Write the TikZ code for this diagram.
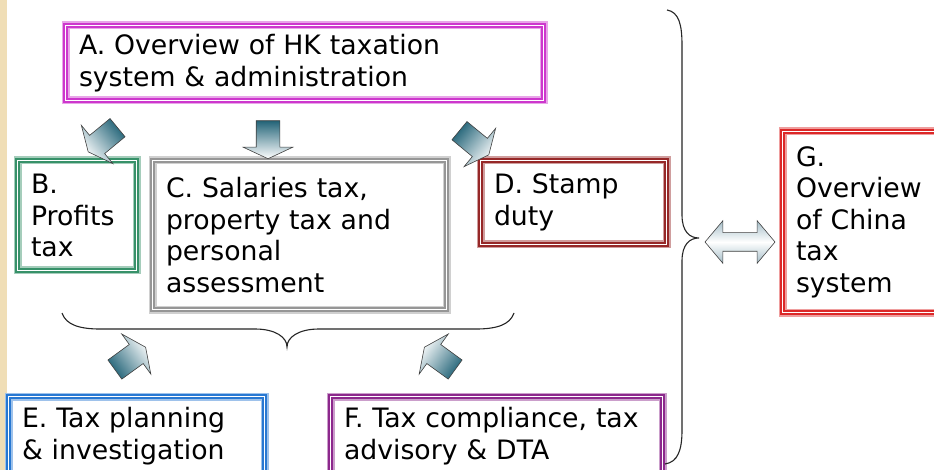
\documentclass[tikz,border=0pt]{standalone}
\usepackage{fontspec}
\setmainfont{DejaVu Sans}
\usepackage{xcolor}
\usepackage{tikz}
\usetikzlibrary{shapes.arrows, positioning}

\definecolor{boxA}{RGB}{205,55,205}
\definecolor{boxB}{RGB}{55,145,105}
\definecolor{boxC}{RGB}{150,150,150}
\definecolor{boxD}{RGB}{150,40,40}
\definecolor{boxE}{RGB}{40,120,210}
\definecolor{boxF}{RGB}{140,40,140}
\definecolor{boxG}{RGB}{220,40,40}
\definecolor{arrowteal}{RGB}{35,100,120}
\definecolor{linkblue}{RGB}{165,190,200}
\definecolor{slidetan}{RGB}{240,222,182}

\begin{document}
\begin{tikzpicture}[x=1pt, y=-1pt, font=\fontsize{26.7}{31.5}\selectfont,
    topic/.style={rectangle, draw=#1, preaction={draw=#1!45, line width=8pt}, line width=1.8pt, double=white, double distance=1.8pt, inner sep=0pt, align=left},
    flow/.style 2 args={single arrow, draw=black!75, line width=0.6pt, inner xsep=0pt, inner ysep=11.5pt, minimum height=38pt, single arrow head extend=13pt, single arrow tip angle=130, top color=arrowteal, bottom color=white, shading angle=#2, rotate=#1},
    brace/.style={draw=black!85, line width=1.1pt}]
    \useasboundingbox (0,0) rectangle (934,470);
    \clip (0,0) rectangle (934,470);
    \fill[white] (0,0) rectangle (934,470);
    \fill[slidetan] (0,0) rectangle (7,470);

    % topic boxes
    \node[topic=boxA, minimum width=478pt, minimum height=75pt, text width=451pt] (overview) at (304.5,63) {A. Overview of HK taxation\\system \& administration};
    \node[topic=boxB, minimum width=119pt, minimum height=110pt, text width=92pt] (profits) at (77,215.5) {B.\\Profits\\tax};
    \node[topic=boxC, minimum width=294pt, minimum height=149pt, text width=267pt] (salaries) at (299.5,235) {C. Salaries tax,\\property tax and\\personal\\assessment};
    \node[topic=boxD, minimum width=186pt, minimum height=84pt, text width=159pt] (stamp) at (573.5,202.5) {D. Stamp\\duty};
    \node[topic=boxE, minimum width=256pt, minimum height=79pt, text width=229pt] (planning) at (136.5,436) {E. Tax planning\\\& investigation};
    \node[topic=boxF, minimum width=332pt, minimum height=79pt, text width=305pt] (compliance) at (496.5,436) {F. Tax compliance, tax\\advisory \& DTA};
    \node[topic=boxG, minimum width=156pt, minimum height=181pt, text width=129pt] (china) at (860.5,222) {G.\\Overview\\of China\\tax\\system};

    % block arrows
    \node[flow={219.5}{309.5}] (toprofits) at (105,138) {};
    \node[flow={270}{0}] (tosalaries) at (268,137) {};
    \node[flow={320.5}{50.5}] (tostamp) at (472,141) {};
    \node[flow={36}{126}] (fromplanning) at (128,360) {};
    \node[flow={144}{234}] (fromcompliance) at (442,360) {};

    % braces
    \draw[brace] (62,313) .. controls (66,325) and (80,329) .. (100,329) -- (255,329)
        .. controls (275,329) and (287,337) .. (287,347)
        .. controls (287,337) and (299,329) .. (319,329) -- (476,329)
        .. controls (496,329) and (510,325) .. (514,313);
    \draw[brace] (667,10) .. controls (679,12) and (682,25) .. (682,45) -- (682,215)
        .. controls (682,232) and (690,238) .. (699,238)
        .. controls (690,238) and (682,244) .. (682,261) -- (682,430)
        .. controls (682,450) and (678,462) .. (665,464);

    % link to China
    \node[double arrow, draw=black!75, line width=0.6pt, inner xsep=0pt, inner ysep=9pt, minimum height=70pt, double arrow head extend=12pt, double arrow tip angle=100, top color=linkblue, bottom color=linkblue, middle color=white] (link) at (740,242) {};
\end{tikzpicture}
\end{document}
